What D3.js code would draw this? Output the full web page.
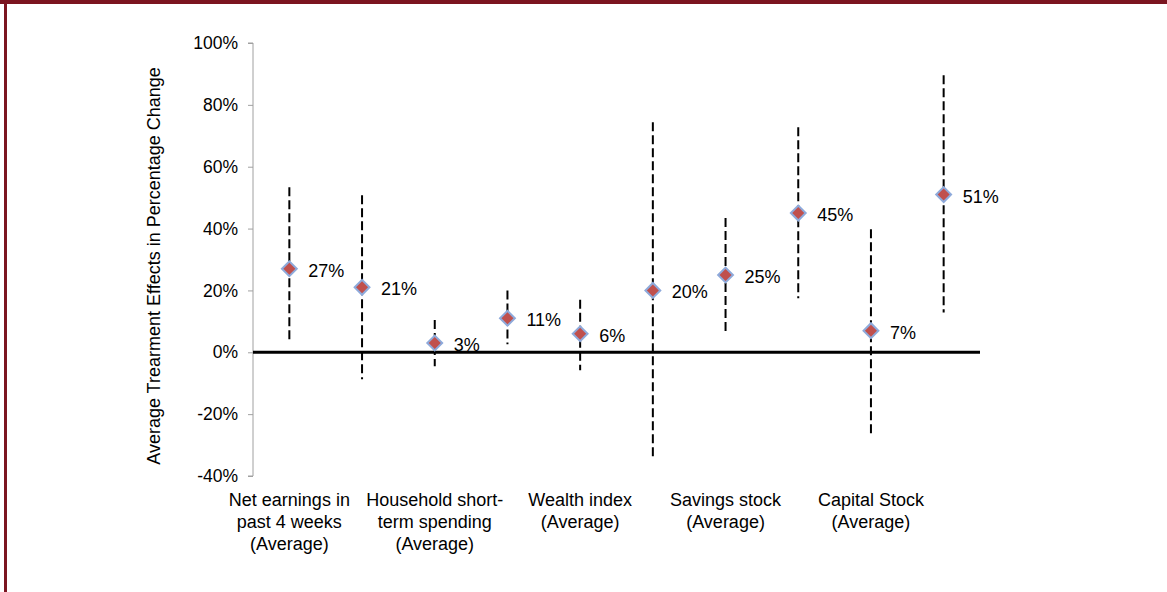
<!DOCTYPE html>
<html>
<head>
<meta charset="utf-8">
<script src="https://cdn.jsdelivr.net/npm/d3@7"></script>
<style>
  html, body { margin: 0; padding: 0; background: #fff; }
  svg { display: block; font-family: "Liberation Sans", Arial, sans-serif; }
</style>
</head>
<body>
<div id="chart"></div>
<script>
// point estimates and confidence bounds
const estimates = [0.27, 0.21, 0.03, 0.11, 0.06, 0.20, 0.25, 0.45, 0.07, 0.51];
const lowerBounds = [0.03, -0.087, -0.045, 0.026, -0.058, -0.343, 0.068, 0.175, -0.272, 0.129];
const upperBounds = [0.534, 0.508, 0.104, 0.20, 0.17, 0.744, 0.434, 0.728, 0.398, 0.896];
const valueLabels = ['27%', '21%', '3%', '11%', '6%', '20%', '25%', '45%', '7%', '51%'];
const categoryLabels = [
  ['Net earnings in', 'past 4 weeks', '(Average)'],
  ['Household short-', 'term spending', '(Average)'],
  ['Wealth index', '(Average)'],
  ['Savings stock', '(Average)'],
  ['Capital Stock', '(Average)']
];
const yTicks = [-0.4, -0.2, 0, 0.2, 0.4, 0.6, 0.8, 1.0];
const yTitle = 'Average Trearment Effects in Percentage Change';

const width = 1167, height = 592;
const svg = d3.select('#chart').append('svg')
  .attr('width', width)
  .attr('height', height);

// dark red frame (top and left)
svg.append('rect').attr('x', 0).attr('y', 0).attr('width', width).attr('height', 4).attr('fill', '#7b1520');
svg.append('rect').attr('x', 4).attr('y', 0).attr('width', 3).attr('height', height).attr('fill', '#7b1520');

const x = d3.scalePoint()
  .domain(d3.range(estimates.length))
  .range([253, 980])
  .padding(0.5);

const y = d3.scaleLinear()
  .domain([-0.4, 1.0])
  .range([476, 43]);

// Y axis
const yAxis = svg.append('g')
  .attr('transform', 'translate(253,0)')
  .call(d3.axisLeft(y).tickValues(yTicks).tickSize(5).tickPadding(10)
    .tickFormat(d => Math.round(d * 100) + '%'));
yAxis.select('.domain').attr('stroke', '#a0a0a0').attr('d', `M-5,${y(1)}H0V${y(-0.4)}H-5`);
yAxis.selectAll('.tick line').attr('stroke', '#a0a0a0');
yAxis.selectAll('.tick text')
  .attr('fill', '#000')
  .style('font-size', '17.5px')
  .style('font-family', '"Liberation Sans", Arial, sans-serif');

// zero line
svg.append('line')
  .attr('x1', 253).attr('x2', 980)
  .attr('y1', y(0)).attr('y2', y(0))
  .attr('stroke', '#000').attr('stroke-width', 3);

// dashed error bars
svg.selectAll('.err')
  .data(estimates)
  .enter().append('line')
  .attr('class', 'err')
  .attr('x1', (d, i) => x(i)).attr('x2', (d, i) => x(i))
  .attr('y1', (d, i) => y(upperBounds[i]))
  .attr('y2', (d, i) => y(lowerBounds[i]))
  .attr('stroke', '#000')
  .attr('stroke-width', 2)
  .attr('stroke-dasharray', '9,4');

// diamond markers
const diamond = d3.symbol().type(d3.symbolSquare).size(110);
svg.selectAll('.pt')
  .data(estimates)
  .enter().append('path')
  .attr('class', 'pt')
  .attr('d', diamond)
  .attr('transform', (d, i) => `translate(${x(i)},${y(d)}) rotate(45)`)
  .attr('fill', '#c0504d')
  .attr('stroke', '#8eaadb')
  .attr('stroke-width', 2);

// value labels
svg.selectAll('.val')
  .data(estimates)
  .enter().append('text')
  .attr('class', 'val')
  .attr('x', (d, i) => x(i) + 19)
  .attr('y', (d, i) => y(d) + 8)
  .style('font-size', '18px')
  .attr('fill', '#000')
  .text((d, i) => valueLabels[i]);

// category labels, on every other point
const cat = svg.selectAll('.cat')
  .data(categoryLabels)
  .enter().append('text')
  .attr('class', 'cat')
  .attr('text-anchor', 'middle')
  .style('font-size', '18px')
  .attr('fill', '#000')
  .attr('transform', (d, i) => `translate(${x(i * 2)},506)`);
cat.selectAll('tspan')
  .data(d => d)
  .enter().append('tspan')
  .attr('x', 0)
  .attr('y', (d, j) => j * 22)
  .text(d => d);

// Y title
svg.append('text')
  .attr('transform', 'translate(160,266) rotate(-90)')
  .attr('text-anchor', 'middle')
  .style('font-size', '18px')
  .attr('fill', '#000')
  .text(yTitle);
</script>
</body>
</html>
